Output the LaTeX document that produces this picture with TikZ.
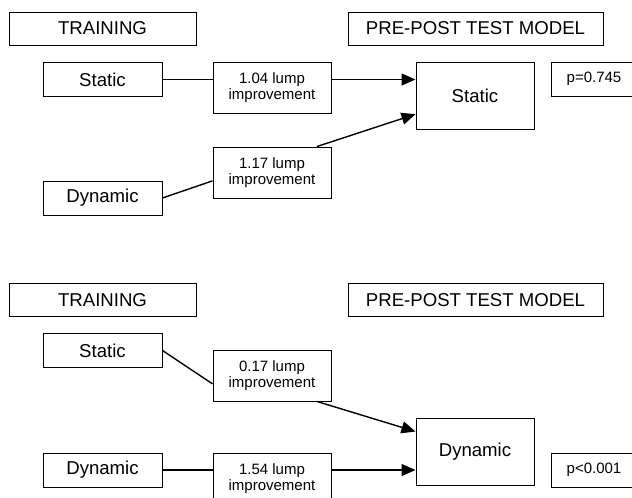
\documentclass[tikz,border=0pt]{standalone}
\usepackage{fontspec}
\setmainfont{Liberation Sans}
\usetikzlibrary{arrows.meta}

\begin{document}
\begin{tikzpicture}[x=1pt, y=-1pt, >={Triangle[length=14pt,width=12pt]}] % y runs downwards!

	\tikzstyle{all} = [draw, line width=1pt, inner sep=0pt, align=center]
	\tikzstyle{head} = [all, minimum height=33pt, font=\fontsize{18.6}{21}\selectfont]
	\tikzstyle{group} = [all, minimum width=119pt, minimum height=34pt, font=\fontsize{18.6}{21}\selectfont]
	\tikzstyle{gain} = [all, minimum width=118pt, minimum height=51pt, font=\fontsize{15}{16.5}\selectfont]
	\tikzstyle{test} = [all, minimum width=118pt, minimum height=67pt, font=\fontsize{18.6}{21}\selectfont]
	\tikzstyle{pval} = [all, minimum width=86pt, minimum height=34pt, font=\fontsize{15}{17}\selectfont]
	\tikzstyle{link} = [line width=1.4pt]

	\useasboundingbox (0,0) rectangle (632,498);
	\clip (0,0) rectangle (632,498);

	% upper half: static test
	\node [head, minimum width=187pt] (train1) at (102.5,28.5) {TRAINING};
	\node [head, minimum width=255pt] (model1) at (475.5,28.5) {PRE-POST TEST MODEL};
	\node [group] (static1) at (102.5,79.5) {Static};
	\node [group] (dyn1) at (102.5,198) {Dynamic};
	\node [gain] (gain1) at (272,87.5) {1.04 lump\\improvement};
	\node [gain] (gain2) at (272,172.5) {1.17 lump\\improvement};
	\node [test] (test1) at (475,96) {Static};
	\node [pval] (p1) at (594,79) {p=0.745};

	\draw [link] (static1) -- (static1 -| gain1.west);
	\draw [link, ->] (gain1.east |- static1) -- (test1.west |- static1);
	\draw [link] (dyn1.east) -- (gain2.188);
	\draw [link, ->] (gain2.30) -- (test1.197);

	% lower half: dynamic test
	\node [head, minimum width=187pt] (train2) at (102.5,300) {TRAINING};
	\node [head, minimum width=255pt] (model2) at (475.5,300) {PRE-POST TEST MODEL};
	\node [group] (static2) at (102.5,350.5) {Static};
	\node [group] (dyn2) at (102.5,470) {Dynamic};
	\node [gain] (gain3) at (272,375.5) {0.17 lump\\improvement};
	\node [gain] (gain4) at (272,478.5) {1.54 lump\\improvement};
	\node [test] (test2) at (475,452) {Dynamic};
	\node [pval] (p2) at (594,470) {p<0.001};

	\draw [link] (static2.east) -- (gain3.188);
	\draw [link, ->] (gain3.-30) -- (test2.161);
	\draw [link] (dyn2) -- (dyn2 -| gain4.west);
	\draw [link, ->] (gain4.east |- dyn2) -- (test2.west |- dyn2);

\end{tikzpicture}
\end{document}
